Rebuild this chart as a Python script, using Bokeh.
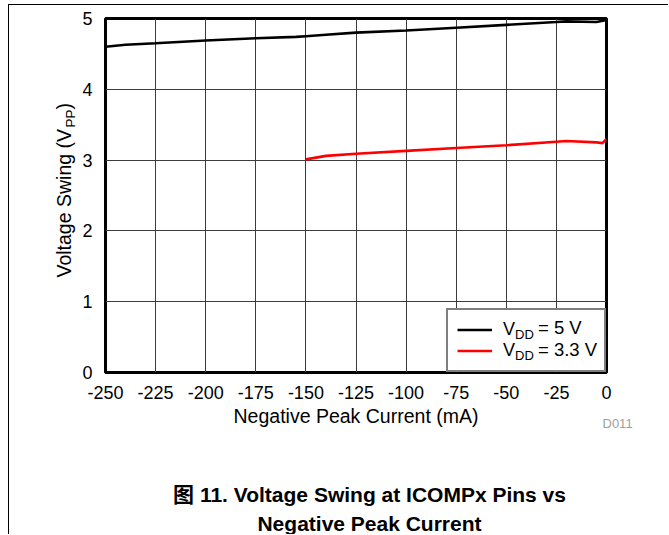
import math
from bokeh.plotting import figure
from bokeh.models import Range1d, FixedTicker, Legend, LegendItem, Label
from bokeh.embed import file_html
from bokeh.resources import INLINE

# ---- data ----
x_ticks = [-250, -225, -200, -175, -150, -125, -100, -75, -50, -25, 0]
y_ticks = [0, 1, 2, 3, 4, 5]

vdd5_current = [-250, -240, -225, -200, -175, -155, -150, -140, -125, -100, -75, -50, -25, -20, -5, 0]
vdd5_swing = [4.60, 4.63, 4.65, 4.69, 4.72, 4.74, 4.75, 4.77, 4.80, 4.83, 4.87, 4.91, 4.95, 4.96, 4.95, 4.98]

vdd33_current = [-150, -140, -125, -100, -75, -50, -25, -20, -5, -2, 0]
vdd33_swing = [3.01, 3.06, 3.09, 3.13, 3.17, 3.21, 3.26, 3.27, 3.25, 3.24, 3.30]

legend_symbol, legend_sub = "V", "DD"
legend_values = ["= 5 V", "= 3.3 V"]
x_title = "Negative Peak Current (mA)"
y_title_main, y_title_sub, y_title_end = "Voltage Swing (V", "PP", ")"
caption_lines = ["图 11. Voltage Swing at ICOMPx Pins vs", "Negative Peak Current"]
code_tag = "D011"

FONT = "Liberation Sans, 'Noto Sans CJK SC', sans-serif"
X0, X1, Y0, Y1 = -250, 0, 0, 5

W, H = 660, 530
p = figure(width=W, height=H, output_backend="svg", toolbar_location=None,
           x_range=Range1d(X0, X1), y_range=Range1d(Y0, Y1),
           min_border_left=96, min_border_right=63, min_border_top=13,
           min_border_bottom=163, background_fill_color="white",
           border_fill_color="white")
p.styles = {"margin-left": "8px", "margin-top": "4px",
            "border-top": "1px solid black", "border-left": "1px solid black"}

p.outline_line_color = "black"
p.outline_line_width = 3

for ax in (p.xaxis[0], p.yaxis[0]):
    ax.axis_line_color = None
    ax.major_tick_line_color = None
    ax.minor_tick_line_color = None
    ax.major_tick_out = 0
    ax.major_tick_in = 0
    ax.minor_tick_out = 0
    ax.minor_tick_in = 0
    ax.major_label_text_font = FONT
    ax.major_label_text_font_size = "18px"
    ax.major_label_text_color = "black"

p.xaxis.ticker = FixedTicker(ticks=x_ticks)
p.yaxis.ticker = FixedTicker(ticks=y_ticks)
p.xaxis.major_label_overrides = {t: str(t) for t in x_ticks}
p.yaxis.major_label_overrides = {t: str(t) for t in y_ticks}
p.xaxis.major_label_standoff = 13
p.yaxis.major_label_standoff = 13
p.xaxis.axis_label = x_title
p.xaxis.axis_label_text_font = FONT
p.xaxis.axis_label_text_font_size = "19.5px"
p.xaxis.axis_label_text_font_style = "normal"
p.xaxis.axis_label_text_color = "black"
p.xaxis.axis_label_standoff = 3

p.xgrid.ticker = FixedTicker(ticks=x_ticks)
p.ygrid.ticker = FixedTicker(ticks=y_ticks)
for g in (p.xgrid[0], p.ygrid[0]):
    g.grid_line_color = "#3c3c3c"
    g.grid_line_width = 1

r5 = p.line(vdd5_current, vdd5_swing, line_color="black", line_width=2.6)
r33 = p.line(vdd33_current, vdd33_swing, line_color="#ff0000", line_width=2.6)
series = [r5, r33]

# main legend: box, line samples and the "V" of each entry
legend_main = Legend(items=[LegendItem(label=legend_symbol, renderers=[r]) for r in series],
                     location="bottom_right", margin=0, padding=9, spacing=0,
                     glyph_width=35, glyph_height=21, label_height=21, label_width=92,
                     label_standoff=11, label_text_font=FONT, label_text_font_size="18px",
                     label_text_color="black",
                     border_line_color="black", border_line_width=2.5,
                     background_fill_color="white", background_fill_alpha=1.0)
p.add_layout(legend_main)

# text-only legends for the subscript and for the values (no box, no line sample)
def text_legend(labels, loc, size):
    lg = Legend(items=[LegendItem(label=t, renderers=[r]) for t, r in zip(labels, series)],
                location=loc, margin=0, padding=0, spacing=0,
                glyph_width=0, glyph_height=21, label_height=21, label_width=10,
                label_standoff=0, label_text_font=FONT, label_text_font_size=size,
                label_text_color="black", border_line_color=None,
                background_fill_alpha=0.0)
    p.add_layout(lg)

text_legend([legend_sub, legend_sub], (515 - 105, 6), "13px")
text_legend(legend_values, (538 - 105, 11), "18.5px")

# page-pixel positions -> data coordinates (frame: x 105..606, y 372..18)
def dx(px):
    return X0 + (px - 105) * (X1 - X0) / 501.0

def dy(py):
    return Y0 + (372 - py) * (Y1 - Y0) / 354.0

BASE_SHIFT = 0.38  # renderer puts the glyph baseline this many em past the anchor

def add_label(text, x, y, size, place, rotated=False, **kw):
    em = float(size.replace("px", ""))
    if rotated:
        x = x - BASE_SHIFT * em
    else:
        y = y - BASE_SHIFT * em
    lab = Label(x=dx(x), y=dy(y), text=text,
                text_font=FONT, text_font_size=size, text_color=kw.pop("color", "black"),
                text_baseline="alphabetic", text_align=kw.pop("align", "left"),
                angle=math.pi / 2 if rotated else 0, **kw)
    p.add_layout(lab, place)

# y-axis title (rotated, with subscript)
add_label(y_title_main, 71, 277, "19.5px", "left", rotated=True)
add_label(y_title_sub, 75, 127, "13.5px", "left", rotated=True)
add_label(y_title_end, 71, 109, "19.5px", "left", rotated=True)

# tag and caption
add_label(code_tag, 602, 428, "13px", "below", color="#a0a0a0")
add_label(caption_lines[0], 369, 502, "21px", "below", align="center", text_font_style="bold")
add_label(caption_lines[1], 369, 531, "21px", "below", align="center", text_font_style="bold")

open("out.html", "w").write(file_html(p, INLINE))
